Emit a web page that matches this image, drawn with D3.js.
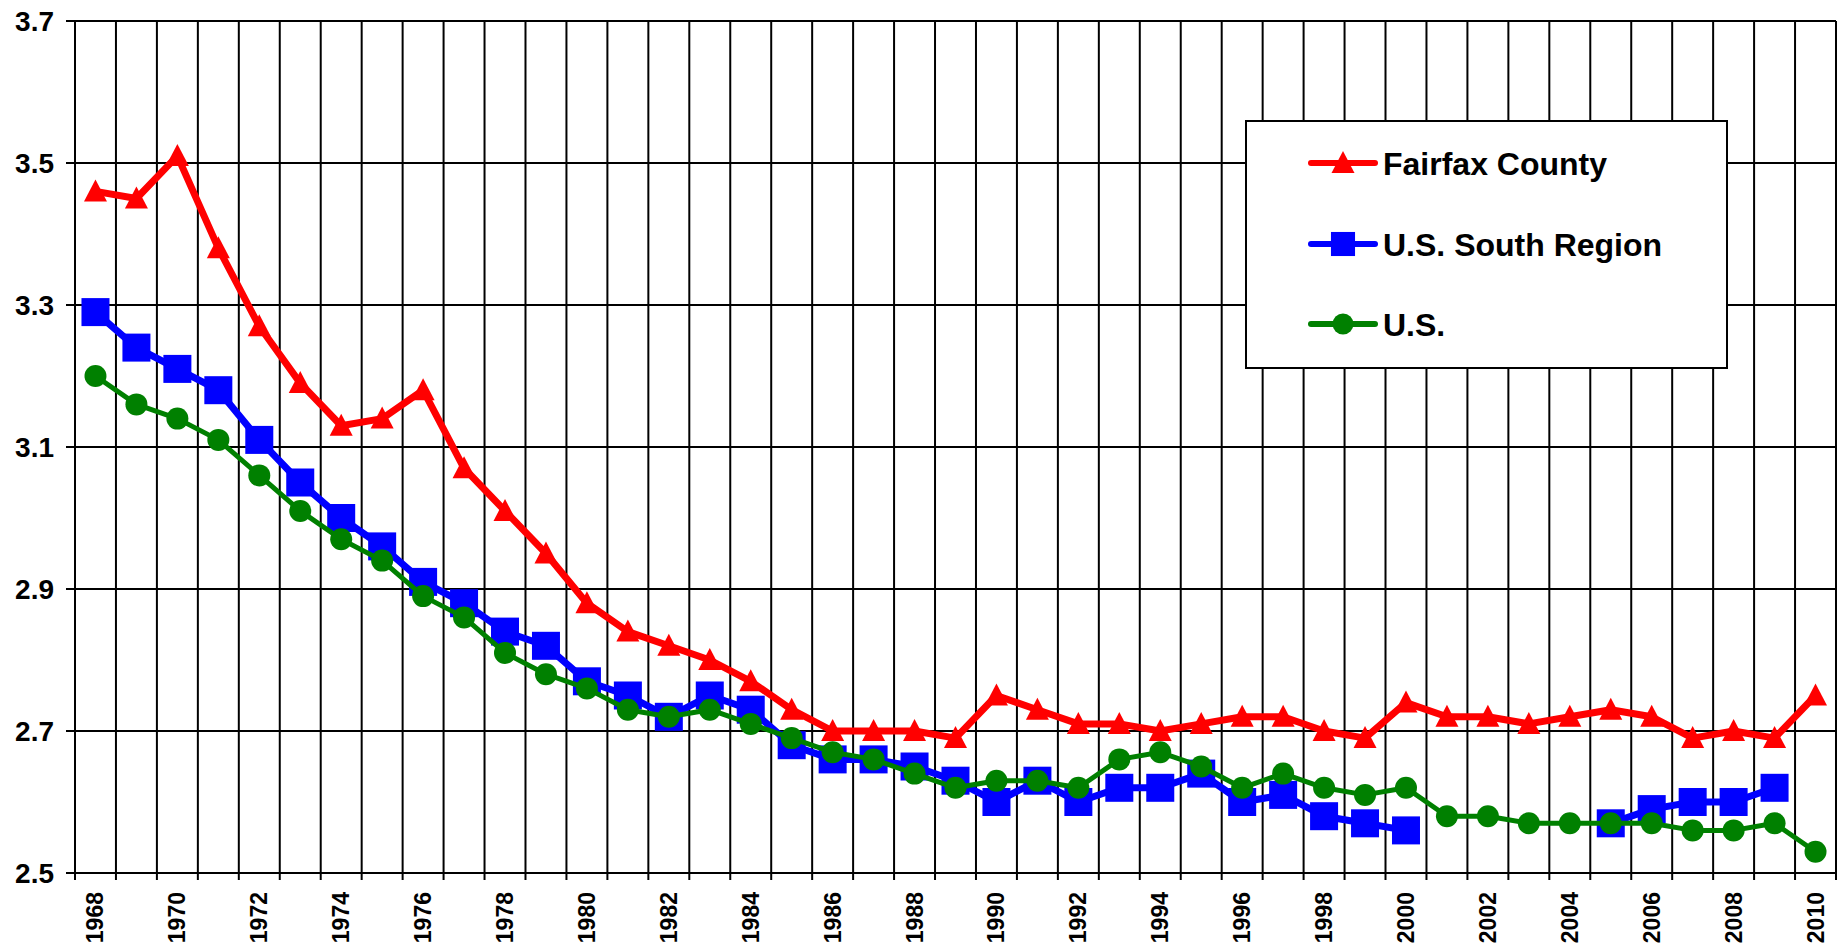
<!DOCTYPE html>
<html>
<head>
  <meta charset="utf-8">
  <style>
    body { margin: 0; background: #fff; }
    svg text { font-family: Arial, "Liberation Sans", sans-serif; font-weight: bold; fill: #000; }
    svg .grid { stroke: #000; stroke-width: 2px; }
  </style>
</head>
<body>
  <div id="chart"></div>
  <script src="https://d3js.org/d3.v7.min.js"></script>
  <script>
  // years on the category axis
  var years = d3.range(1968, 2011);

  // persons per household
  var fairfax = [3.46, 3.45, 3.51, 3.38, 3.27, 3.19, 3.13, 3.14, 3.18, 3.07,
                 3.01, 2.95, 2.88, 2.84, 2.82, 2.80, 2.77, 2.73, 2.70, 2.70,
                 2.70, 2.69, 2.75, 2.73, 2.71, 2.71, 2.70, 2.71, 2.72, 2.72,
                 2.70, 2.69, 2.74, 2.72, 2.72, 2.71, 2.72, 2.73, 2.72, 2.69,
                 2.70, 2.69, 2.75];
  var south   = [3.29, 3.24, 3.21, 3.18, 3.11, 3.05, 3.00, 2.96, 2.91, 2.88,
                 2.84, 2.82, 2.77, 2.75, 2.72, 2.75, 2.73, 2.68, 2.66, 2.66,
                 2.65, 2.63, 2.60, 2.63, 2.60, 2.62, 2.62, 2.64, 2.60, 2.61,
                 2.58, 2.57, 2.56, null, null, null, null, 2.57, 2.59, 2.60,
                 2.60, 2.62, null];
  var us      = [3.20, 3.16, 3.14, 3.11, 3.06, 3.01, 2.97, 2.94, 2.89, 2.86,
                 2.81, 2.78, 2.76, 2.73, 2.72, 2.73, 2.71, 2.69, 2.67, 2.66,
                 2.64, 2.62, 2.63, 2.63, 2.62, 2.66, 2.67, 2.65, 2.62, 2.64,
                 2.62, 2.61, 2.62, 2.58, 2.58, 2.57, 2.57, 2.57, 2.57, 2.56,
                 2.56, 2.57, 2.53];

  var yTicks = [2.5, 2.7, 2.9, 3.1, 3.3, 3.5, 3.7];

  var seriesNames = ["Fairfax County", "U.S. South Region", "U.S."];
  var seriesValues = [fairfax, south, us];
  var seriesColors = ["#FF0000", "#0000FF", "#008000"];
  var seriesShapes = ["triangle", "square", "circle"];
  var lineWidths = [7, 7, 5];

  var W = 1845, H = 947;
  var plot = { left: 75, right: 1836, top: 21, bottom: 873 };

  var svg = d3.select("#chart").append("svg")
      .attr("width", W)
      .attr("height", H);

  var xScale = d3.scaleBand()
      .domain(years)
      .range([plot.left, plot.right])
      .padding(0);
  var yScale = d3.scaleLinear()
      .domain([2.5, 3.7])
      .range([plot.bottom, plot.top]);

  var half = xScale.bandwidth() / 2;
  function cx(i) { return xScale(years[i]) + half; }

  // vertical grid lines on category boundaries (plus small ticks below the axis)
  var bounds = years.map(function (y) { return xScale(y); }).concat([plot.right]);
  svg.append("g").selectAll("line")
    .data(bounds)
    .enter().append("line")
      .classed("grid", true)
      .attr("x1", function (d) { return d; })
      .attr("x2", function (d) { return d; })
      .attr("y1", plot.top)
      .attr("y2", plot.bottom + 7);

  // horizontal grid lines
  svg.append("g").selectAll("line")
    .data(yTicks)
    .enter().append("line")
      .classed("grid", true)
      .attr("x1", plot.left - 9)
      .attr("x2", plot.right)
      .attr("y1", function (d) { return yScale(d); })
      .attr("y2", function (d) { return yScale(d); });

  // y tick labels
  svg.append("g").selectAll("text")
    .data(yTicks)
    .enter().append("text")
      .attr("x", 54)
      .attr("y", function (d) { return yScale(d); })
      .attr("dy", "0.36em")
      .style("text-anchor", "end")
      .style("font-size", "28px")
      .text(function (d) { return d3.format(".1f")(d); });

  // x tick labels, every other year, rotated
  svg.append("g").selectAll("text")
    .data(years.filter(function (y) { return y % 2 === 0; }))
    .enter().append("text")
      .attr("transform", function (d) {
        return "translate(" + (xScale(d) + half + 8) + "," + 892 + ") rotate(-90)";
      })
      .style("text-anchor", "end")
      .style("font-size", "23px")
      .text(function (d) { return d; });

  // markers (k scales the legend copies)
  function marker(g, shape, color, k) {
    k = k || 1;
    if (shape === "triangle") {
      g.append("path")
        .attr("d", "M0," + (-12 * k) + " L" + (11.5 * k) + "," + (10 * k) + " L" + (-11.5 * k) + "," + (10 * k) + " Z")
        .attr("fill", color);
    } else if (shape === "square") {
      g.append("rect")
        .attr("x", -14 * k).attr("y", -14 * k)
        .attr("width", 28 * k).attr("height", 28 * k)
        .attr("fill", color);
    } else {
      g.append("circle").attr("r", 11 * k).attr("fill", color);
    }
  }

  var line = d3.line()
      .defined(function (d) { return d != null; })
      .x(function (d, i) { return cx(i); })
      .y(function (d) { return yScale(d); });

  seriesValues.forEach(function (vals, s) {
    var g = svg.append("g");
    g.append("path")
      .attr("d", line(vals))
      .attr("fill", "none")
      .attr("stroke", seriesColors[s])
      .attr("stroke-width", lineWidths[s])
      .attr("stroke-linejoin", "round");
    vals.forEach(function (v, i) {
      if (v == null) return;
      var m = g.append("g").attr("transform", "translate(" + cx(i) + "," + yScale(v) + ")");
      marker(m, seriesShapes[s], seriesColors[s]);
    });
  });

  // legend
  var legend = svg.append("g");
  legend.append("rect")
    .attr("x", 1246).attr("y", 121)
    .attr("width", 481).attr("height", 247)
    .attr("fill", "#fff")
    .attr("stroke", "#000")
    .attr("stroke-width", 2);

  var rowY = [163, 244, 324];
  var legendK = [1, 0.86, 0.95];
  seriesNames.forEach(function (name, s) {
    var row = legend.append("g").attr("transform", "translate(0," + rowY[s] + ")");
    row.append("line")
      .attr("x1", 1311).attr("x2", 1375)
      .attr("y1", 0).attr("y2", 0)
      .attr("stroke", seriesColors[s])
      .attr("stroke-width", 6)
      .attr("stroke-linecap", "round");
    marker(row.append("g").attr("transform", "translate(1343,0)"), seriesShapes[s], seriesColors[s], legendK[s]);
    row.append("text")
      .attr("x", 1383)
      .attr("y", 0)
      .attr("dy", "0.36em")
      .style("font-size", "32px")
      .text(name);
  });
  </script>
</body>
</html>
